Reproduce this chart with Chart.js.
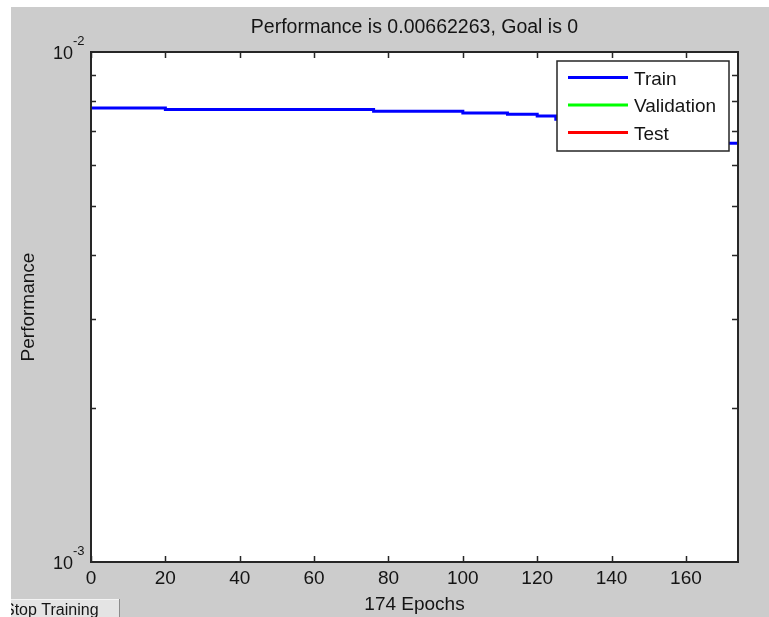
<!DOCTYPE html>
<html>
<head>
<meta charset="utf-8">
<title>Performance</title>
<script src="https://cdn.jsdelivr.net/npm/chart.js@4.4.1/dist/chart.umd.min.js"></script>
<style>
  html, body { margin: 0; padding: 0; background: #fff; }
  #wrap { width: 769px; height: 617px; position: relative; }
</style>
</head>
<body>
<div id="wrap"><canvas id="perfChart"></canvas></div>
<script>
// training record (step changes of the train performance)
var epochs = [0, 20, 76, 100, 112, 120, 125, 131, 140, 150, 158, 166, 171, 174];
var trainPerf = [0.00777, 0.00771, 0.00765, 0.00759, 0.00755, 0.00749, 0.00738, 0.00722,
                 0.00708, 0.00697, 0.00686, 0.00675, 0.00662263, 0.00662263];
var validPerf = [];
var testPerf = [];

var xTicks = [0, 20, 40, 60, 80, 100, 120, 140, 160];
var yMajor = [0.001, 0.01];
var yMinor = [0.002, 0.003, 0.004, 0.005, 0.006, 0.007, 0.008, 0.009];
var yMajorLabels = [['10', '-3'], ['10', '-2']];

var FONT = "'Liberation Sans', Arial, sans-serif";
var INK = '#141414';

function toPoints(xs, ys) {
  return ys.map(function (v, i) { return { x: xs[i], y: v }; });
}

// figure background, axes box, ticks, legend, button
var matlabLook = {
  id: 'matlabLook',
  beforeDraw: function (chart) {
    var ctx = chart.ctx, a = chart.chartArea;
    ctx.save();
    ctx.fillStyle = '#ffffff';
    ctx.fillRect(0, 0, chart.width, chart.height);
    ctx.fillStyle = '#cccccc';
    ctx.fillRect(11, 7, chart.width - 11, chart.height - 7);
    ctx.fillStyle = '#ffffff';
    ctx.fillRect(a.left, a.top, a.right - a.left, a.bottom - a.top);
    ctx.restore();
  },
  afterDatasetsDraw: function (chart) {
    var ctx = chart.ctx, a = chart.chartArea;
    var xs = chart.scales.x, ys = chart.scales.y;
    ctx.save();
    ctx.strokeStyle = '#262626';
    ctx.lineWidth = 1.5;
    ctx.beginPath();
    xTicks.forEach(function (t) {
      var px = Math.round(xs.getPixelForValue(t)) + 0.5;
      ctx.moveTo(px, a.bottom); ctx.lineTo(px, a.bottom - 6);
      ctx.moveTo(px, a.top); ctx.lineTo(px, a.top + 6);
    });
    yMinor.forEach(function (t) {
      var py = Math.round(ys.getPixelForValue(t)) + 0.5;
      ctx.moveTo(a.left, py); ctx.lineTo(a.left + 5, py);
      ctx.moveTo(a.right, py); ctx.lineTo(a.right - 6, py);
    });
    ctx.stroke();
    ctx.lineWidth = 2;
    ctx.strokeRect(a.left, a.top, a.right - a.left, a.bottom - a.top);

    // y major labels with exponent
    ctx.fillStyle = INK;
    yMajor.forEach(function (v, i) {
      var py = ys.getPixelForValue(v);
      ctx.font = '18px ' + FONT;
      ctx.textAlign = 'right';
      ctx.textBaseline = 'middle';
      ctx.fillText(yMajorLabels[i][0], a.left - 18, py + 2);
      ctx.font = '13px ' + FONT;
      ctx.textAlign = 'left';
      ctx.fillText(yMajorLabels[i][1], a.left - 18, py - 11);
    });

    // legend box drawn over the plot like the original
    var bx = a.right - 181, by = a.top + 9, bw = 172, bh = 90;
    ctx.fillStyle = '#ffffff';
    ctx.fillRect(bx, by, bw, bh);
    ctx.strokeStyle = '#262626';
    ctx.lineWidth = 1.5;
    ctx.strokeRect(bx, by, bw, bh);
    chart.data.datasets.forEach(function (ds, i) {
      var ly = by + 16.5 + i * 27.5;
      ctx.strokeStyle = ds.borderColor;
      ctx.lineWidth = 3;
      ctx.beginPath();
      ctx.moveTo(bx + 11, ly); ctx.lineTo(bx + 71, ly);
      ctx.stroke();
      ctx.fillStyle = INK;
      ctx.font = '19px ' + FONT;
      ctx.textAlign = 'left';
      ctx.textBaseline = 'middle';
      ctx.fillText(ds.label, bx + 77, ly + 2);
    });
    ctx.restore();
  },
  afterDraw: function (chart) {
    var ctx = chart.ctx;
    ctx.save();
    ctx.beginPath();
    ctx.rect(11, 599, 109, 18);
    ctx.clip();
    ctx.fillStyle = '#e4e4e4';
    ctx.fillRect(11, 599, 109, 18);
    ctx.strokeStyle = '#f4f4f4';
    ctx.lineWidth = 1;
    ctx.beginPath();
    ctx.moveTo(11, 599.5); ctx.lineTo(120, 599.5);
    ctx.stroke();
    ctx.strokeStyle = '#8c8c8c';
    ctx.beginPath();
    ctx.moveTo(119.5, 599); ctx.lineTo(119.5, 617);
    ctx.stroke();
    ctx.fillStyle = INK;
    ctx.font = '16px ' + FONT;
    ctx.textAlign = 'left';
    ctx.textBaseline = 'alphabetic';
    ctx.fillText('Stop Training', 4, 615);
    ctx.restore();
  }
};

var ctx = document.getElementById('perfChart').getContext('2d');
var chart = new Chart(ctx, {
  type: 'line',
  data: {
    datasets: [{
      label: 'Train',
      data: toPoints(epochs, trainPerf),
      borderColor: '#0000ff',
      borderWidth: 3,
      stepped: 'before',
      pointRadius: 0,
      fill: false
    }, {
      label: 'Validation',
      data: validPerf,
      borderColor: '#00ff00',
      borderWidth: 3,
      pointRadius: 0
    }, {
      label: 'Test',
      data: testPerf,
      borderColor: '#ff0000',
      borderWidth: 3,
      pointRadius: 0
    }]
  },
  options: {
    responsive: true,
    maintainAspectRatio: false,
    animation: false,
    layout: { padding: { left: 0, right: 31, top: 0, bottom: 0 } },
    plugins: {
      legend: { display: false },
      tooltip: { enabled: false },
      title: {
        display: true,
        fullSize: false,
        text: 'Performance is 0.00662263, Goal is 0',
        color: INK,
        font: { family: FONT, size: 19.5, weight: 'normal' },
        padding: { top: 16.3, bottom: 12.3 }
      }
    },
    scales: {
      x: {
        type: 'linear',
        min: 0,
        max: 174,
        grid: { display: false, drawTicks: false },
        border: { display: false },
        afterBuildTicks: function (scale) {
          scale.ticks = xTicks.map(function (v) { return { value: v }; });
        },
        afterFit: function (scale) { scale.height = 55; },
        ticks: {
          color: INK,
          padding: 5,
          maxRotation: 0,
          autoSkip: false,
          font: { family: FONT, size: 19 }
        },
        title: {
          display: true,
          text: '174 Epochs',
          color: INK,
          font: { family: FONT, size: 19 },
          padding: { top: 0, bottom: 1 }
        }
      },
      y: {
        type: 'logarithmic',
        min: 0.001,
        max: 0.01,
        grid: { display: false, drawTicks: false },
        border: { display: false },
        ticks: { display: false },
        afterFit: function (scale) { scale.width = 91; },
        title: {
          display: true,
          text: 'Performance',
          color: INK,
          font: { family: FONT, size: 19 },
          padding: { top: 17.6, bottom: 0 }
        }
      }
    }
  },
  plugins: [matlabLook]
});
</script>
</body>
</html>
